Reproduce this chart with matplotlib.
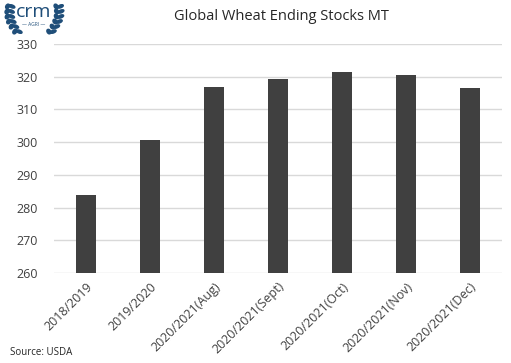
import matplotlib.pyplot as plt
from matplotlib.patches import Ellipse
import numpy as np

# datos
categories = ["2018/2019", "2019/2020", "2020/2021(Aug)", "2020/2021(Sept)",
              "2020/2021(Oct)", "2020/2021(Nov)", "2020/2021(Dec)"]
stocks = [283.8, 300.6, 316.8, 319.2, 321.3, 320.4, 316.5]
yticks = [260, 270, 280, 290, 300, 310, 320, 330]

plt.rcParams['font.family'] = ['Open Sans', 'DejaVu Sans']

fig = plt.figure(figsize=(5.11, 3.63), dpi=100)
ax = fig.add_axes([0.106, 0.248, 0.876, 0.631])

x = np.arange(len(categories))
ax.bar(x, stocks, width=0.31, color="#404040", zorder=3)

ax.set_ylim(260, 330)
ax.set_xlim(-0.5, len(categories) - 0.5)
ax.set_yticks(yticks)
ax.set_xticks(x)
ax.set_xticklabels(categories, rotation=45, ha="right", rotation_mode="anchor")
ax.tick_params(axis="both", length=0, labelsize=9, colors="#404040")
ax.tick_params(axis="y", pad=12)
ax.tick_params(axis="x", pad=5)
ax.grid(axis="y", color="#d9d9d9", linewidth=1, zorder=0)
for s in ax.spines.values():
    s.set_visible(False)

fig.text(0.55, 0.955, "Global Wheat Ending Stocks MT", ha="center", va="center",
         fontsize=10.5, color="#262626")
fig.text(0.02, 0.03, "Source: USDA", ha="left", va="center", fontsize=7, color="#262626")

# logo (crm agri con laureles)
blue = "#1f4e79"
W, H = 511, 363
mid = 34
fig.text(mid / W, 1 - 12 / H, "crm", ha="center", va="center", fontsize=14, color=blue)
fig.text(mid / W, 1 - 25 / H, "— AGRI —", ha="center", va="center", fontsize=3.5, color=blue)
for side in (-1, 1):
    for t in np.linspace(0.05, 0.95, 6):
        py = 5 + 28 * t
        px = mid + side * (24 + 4 * np.sin(np.pi * t) - 8 * t)
        for lean in (-1, 1):
            ang = 90 + side * (-35 * lean - 20)
            e = Ellipse(((px + lean * 2.2) / W, 1 - py / H), 6.5 / W, 2.6 / H,
                        angle=ang, transform=fig.transFigure, color=blue)
            fig.patches.append(e)

fig.savefig("out.png", dpi=100)
